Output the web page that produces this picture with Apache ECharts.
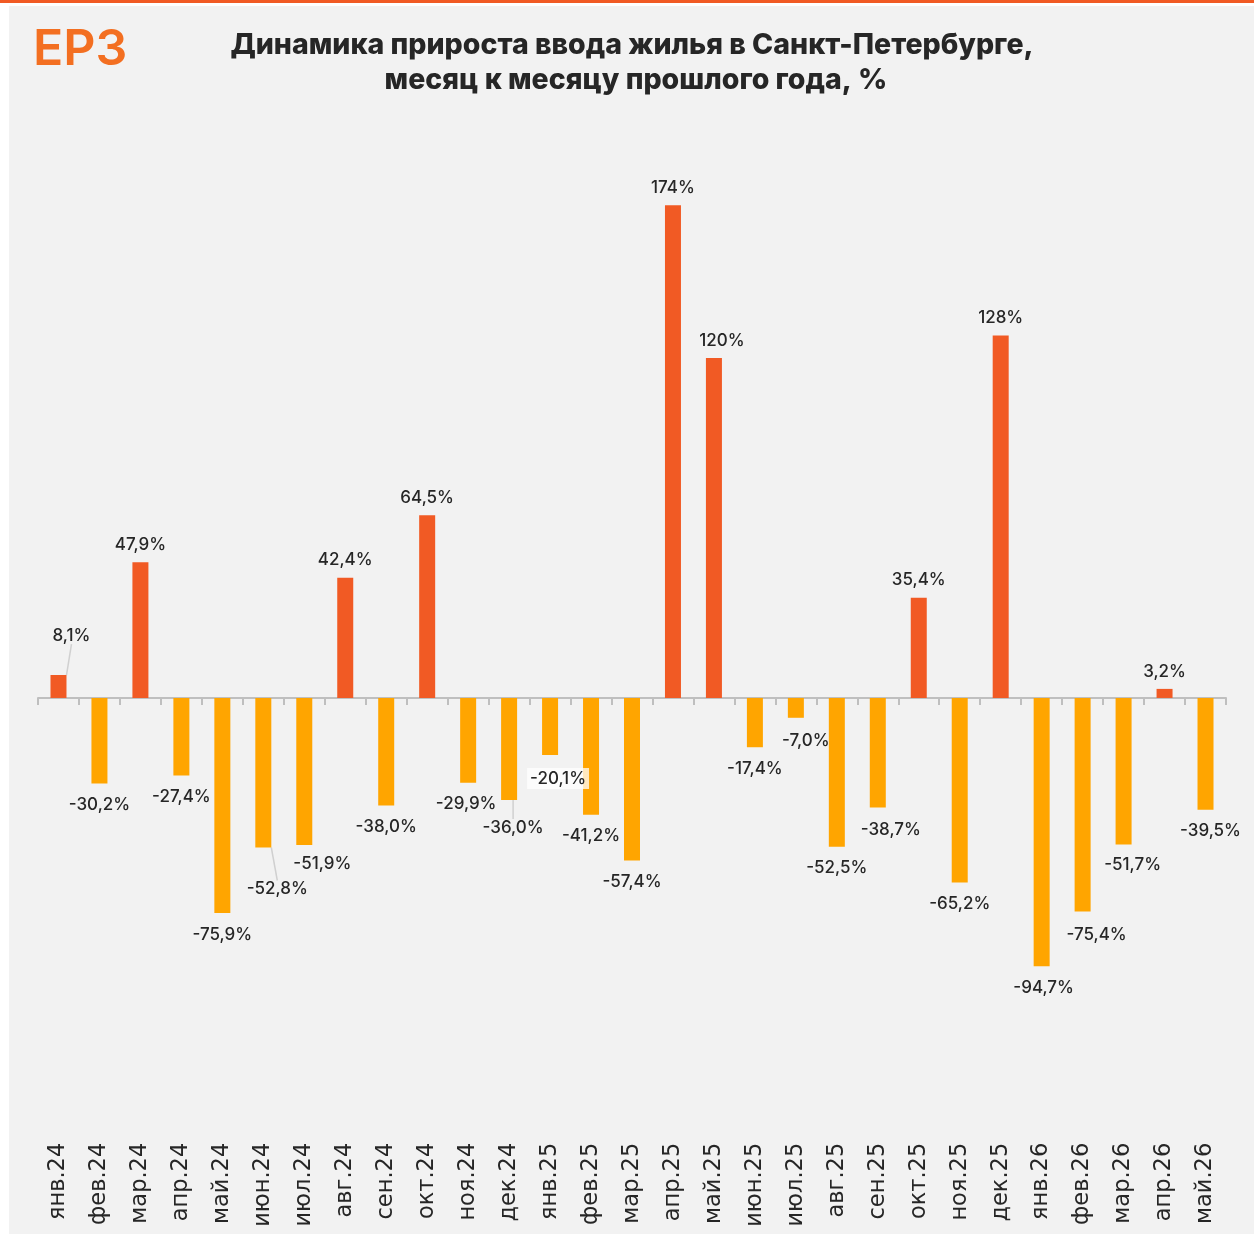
<!DOCTYPE html>
<html><head><meta charset="utf-8">
<script src="https://cdn.jsdelivr.net/npm/echarts@6/dist/echarts.min.js"></script>
<style>html,body{margin:0;padding:0;background:#fff}#c{width:1254px;height:1236px}</style>
</head><body><div id="c"></div>
<script>
const categories = ['янв.24','фев.24','мар.24','апр.24','май.24','июн.24','июл.24','авг.24','сен.24','окт.24','ноя.24','дек.24',
  'янв.25','фев.25','мар.25','апр.25','май.25','июн.25','июл.25','авг.25','сен.25','окт.25','ноя.25','дек.25',
  'янв.26','фев.26','мар.26','апр.26','май.26'];
const values = [8.1,-30.2,47.9,-27.4,-75.9,-52.8,-51.9,42.4,-38.0,64.5,-29.9,-36.0,
  -20.1,-41.2,-57.4,174,120,-17.4,-7.0,-52.5,-38.7,35.4,-65.2,128,
  -94.7,-75.4,-51.7,3.2,-39.5];
const titleLines = ['Динамика прироста ввода жилья в Санкт-Петербурге,', 'месяц к месяцу прошлого года, %'];

// label nudges (styling only), keyed by category index
const labelShift = {0:[13,-22],5:[14,20],6:[18,-3],11:[4,6],12:[8,0],16:[8,0],18:[10,2],20:[13,1],25:[14,2],26:[9,-1],28:[5,0],10:[-2,0],24:[2,0]};
const leaderIdx = [0,5,11];
const boxedIdx = [12];

const POS = '#F15A24', NEG = '#FFA500';
function fmt(v){
  const s = Math.abs(v) >= 100 ? v.toFixed(0) : v.toFixed(1);
  return s.replace('.', ',') + '%';
}
const data = values.map((v,i) => {
  const d = {value: v, itemStyle: {color: v >= 0 ? POS : NEG}, label: {distance: v >= 0 ? 9 : 13}};
  if (leaderIdx.includes(i)) d.labelLine = {show: true, lineStyle: {color: '#d0d0d0', width: 1.5}};
  if (boxedIdx.includes(i)) Object.assign(d.label, {backgroundColor: 'rgba(255,255,255,0.75)', padding: [3,3,1,3]});
  return d;
});

const chart = echarts.init(document.getElementById('c'), null, {renderer: 'canvas'});
chart.setOption({
  animation: false,
  backgroundColor: '#ffffff',
  graphic: [
    {type: 'rect', z: -100, shape: {x: 0, y: 0, width: 1254, height: 3}, style: {fill: '#F15A24'}, silent: true},
    {type: 'rect', z: -100, shape: {x: 9, y: 6, width: 1245, height: 1228}, style: {fill: '#F2F2F2'}, silent: true},
    {type: 'text', left: 33, top: 25, z: 10,
      style: {text: 'ЕРЗ', font: '600 50px Inter', fill: '#F36F21'}},
    {type: 'text', x: 632, y: 45, z: 10,
      style: {text: titleLines[0], font: '800 28.5px Inter', fill: '#262626', align: 'center', verticalAlign: 'middle'}},
    {type: 'text', x: 636, y: 80, z: 10,
      style: {text: titleLines[1], font: '800 28.5px Inter', fill: '#262626', align: 'center', verticalAlign: 'middle'}}
  ],
  grid: {left: 38, right: 28, top: 131.5, bottom: 113.2, containLabel: false},
  xAxis: [
    {type: 'category', data: categories, boundaryGap: true,
      axisLine: {show: true, onZero: true, lineStyle: {color: '#BFBFBF', width: 2}},
      axisTick: {show: true, length: 7, interval: 0, lineStyle: {color: '#BFBFBF', width: 2}},
      axisLabel: {show: false}},
    {type: 'category', data: categories, position: 'bottom', boundaryGap: true,
      axisLine: {show: false, onZero: false}, axisTick: {show: false},
      axisLabel: {rotate: 90, interval: 0, margin: 20, fontSize: 22.5, fontFamily: 'DejaVu Sans', color: '#262626'}}
  ],
  yAxis: {type: 'value', min: -150, max: 200, show: false, splitLine: {show: false}},
  series: [{
    type: 'bar', xAxisIndex: 0, data: data, barWidth: 16,
    label: {show: true, position: 'outside', formatter: p => fmt(p.value),
      fontSize: 17, fontFamily: 'Inter', fontWeight: 500, color: '#262626'},
    labelLayout: p => { const s = labelShift[p.dataIndex]; return s ? {dx: s[0], dy: s[1]} : {}; }
  }]
});
</script></body></html>
